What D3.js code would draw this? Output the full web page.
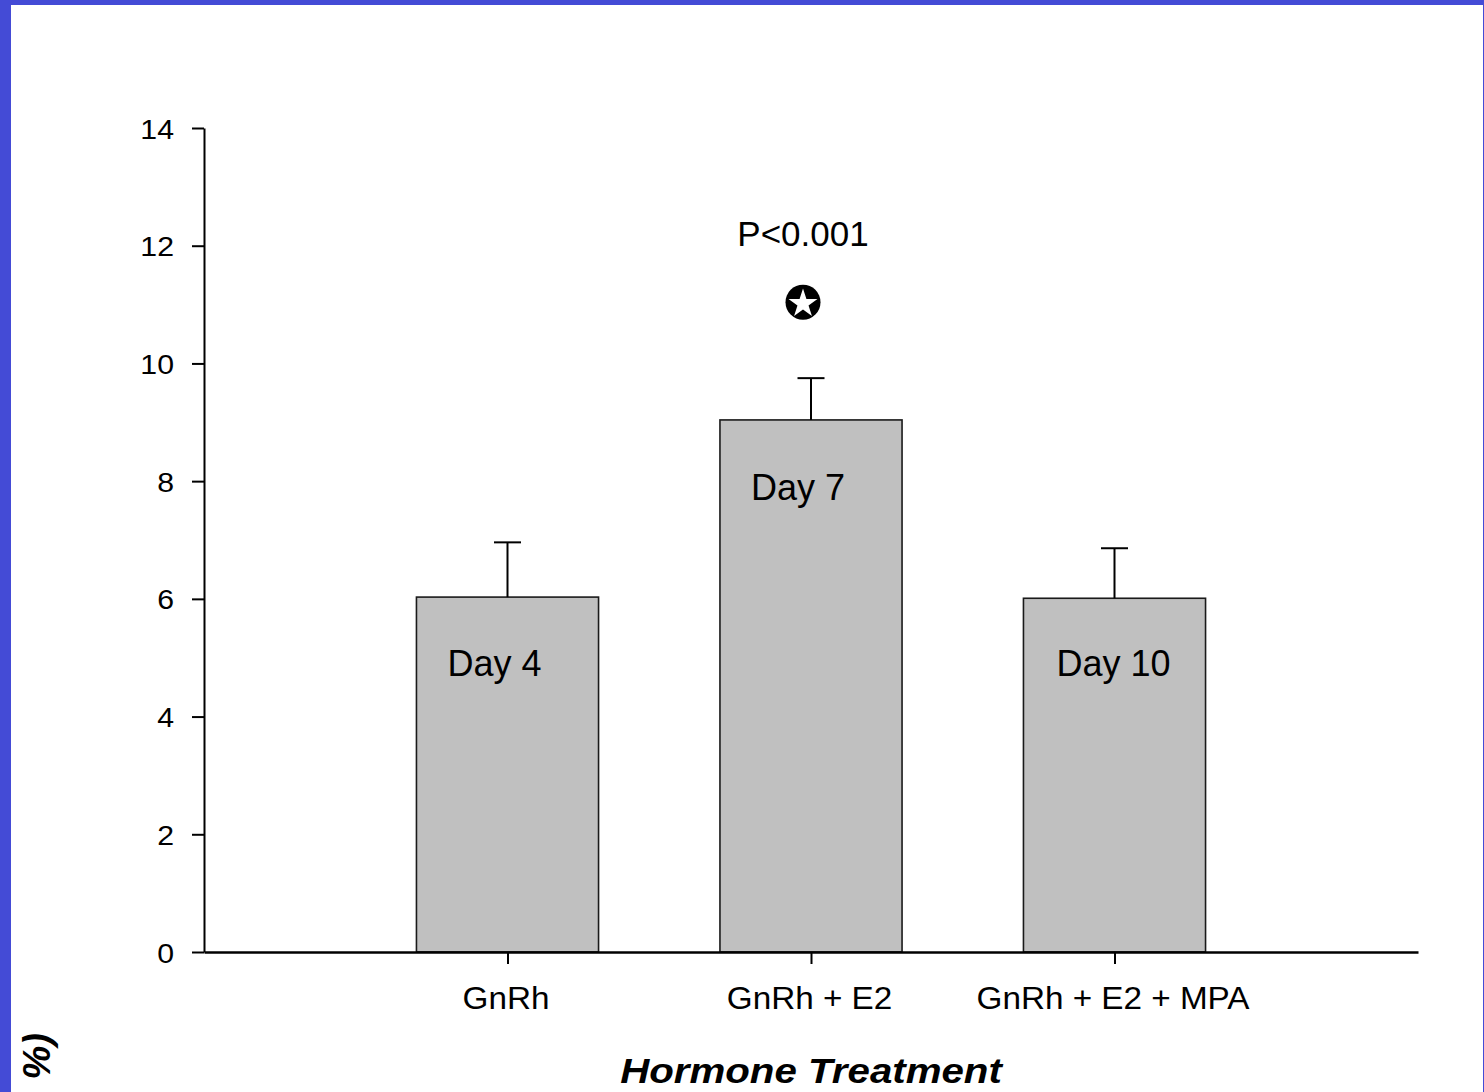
<!DOCTYPE html>
<html>
<head>
<meta charset="utf-8">
<script src="https://cdnjs.cloudflare.com/ajax/libs/d3/7.8.5/d3.min.js"></script>
<style>
  html, body { margin: 0; padding: 0; background: #444bd6; }
  svg { display: block; }
  text { font-family: "Liberation Sans", Arial, sans-serif; fill: #000; }
</style>
</head>
<body>
<div id="chart"></div>
<script>
// chart values
var categories = ["GnRh", "GnRh + E2", "GnRh + E2 + MPA"];
var means = [6.03, 9.04, 6.01];
var errs = [0.93, 0.71, 0.85];
var dayLabels = ["Day 4", "Day 7", "Day 10"];
var dayLabelY = [4.69, 7.68, 4.69];
var dayLabelDx = [-13, -13, -1];
var yTicks = [0, 2, 4, 6, 8, 10, 12, 14];

var W = 1484, H = 1092;
var margin = { top: 128, right: 66, bottom: 140, left: 204 },
  width = W - margin.left - margin.right,
  height = H - margin.top - margin.bottom;

var svg = d3.select("#chart")
  .append("svg")
  .attr("width", W)
  .attr("height", H);

// white page inside the blue frame
svg.append("rect")
  .attr("x", 11).attr("y", 5)
  .attr("width", W - 12).attr("height", H - 5)
  .attr("fill", "#ffffff");

var g = svg.append("g")
  .attr("transform", "translate(" + margin.left + "," + margin.top + ")");

var x = d3.scaleLinear()
  .domain([0, 4])
  .range([0, width]);

var y = d3.scaleLinear()
  .domain([0, 14])
  .range([height, 0]);

var barW = x(0.6) - x(0);

// bars
g.selectAll(".bar")
  .data(means)
  .enter().append("rect")
  .attr("class", "bar")
  .attr("x", function (d, i) { return x(i + 1) - barW / 2; })
  .attr("y", function (d) { return y(d); })
  .attr("width", barW)
  .attr("height", function (d) { return y(0) - y(d); })
  .attr("fill", "#c0c0c0")
  .attr("stroke", "#1a1a1a")
  .attr("stroke-width", 1.6);

// upper error bars
var capW = 27;
means.forEach(function (m, i) {
  var cx = x(i + 1);
  g.append("line")
    .attr("x1", cx).attr("x2", cx)
    .attr("y1", y(m)).attr("y2", y(m + errs[i]))
    .attr("stroke", "#000").attr("stroke-width", 2);
  g.append("line")
    .attr("x1", cx - capW / 2).attr("x2", cx + capW / 2)
    .attr("y1", y(m + errs[i])).attr("y2", y(m + errs[i]))
    .attr("stroke", "#000").attr("stroke-width", 2);
});

// y axis
var yAxis = g.append("g")
  .call(d3.axisLeft(y).tickValues(yTicks).tickSize(12).tickSizeOuter(0));
yAxis.select(".domain").attr("stroke", "#000").attr("stroke-width", 2);
yAxis.selectAll(".tick line").attr("stroke", "#000").attr("stroke-width", 2);
yAxis.selectAll(".tick text")
  .attr("x", 0).attr("dy", "0.36em")
  .attr("transform", "translate(-30,0) scale(1.08,1)")
  .style("font-size", "28px")
  .style("font-family", "Liberation Sans, Arial, sans-serif");

// x axis
var xAxis = g.append("g")
  .attr("transform", "translate(0," + height + ")")
  .call(d3.axisBottom(x).tickValues([1, 2, 3])
    .tickFormat(function (d) { return categories[d - 1]; })
    .tickSize(12).tickSizeOuter(0));
xAxis.select(".domain").attr("stroke", "#000").attr("stroke-width", 2.5);
xAxis.selectAll(".tick line").attr("stroke", "#000").attr("stroke-width", 2);
xAxis.selectAll(".tick text")
  .attr("y", 0).attr("dy", 0)
  .attr("transform", "translate(-2,57) scale(1.04,1)")
  .style("font-size", "32px")
  .style("font-family", "Liberation Sans, Arial, sans-serif");

// labels inside bars
g.selectAll(".day")
  .data(dayLabels)
  .enter().append("text")
  .attr("class", "day")
  .attr("x", function (d, i) { return x(i + 1) + dayLabelDx[i]; })
  .attr("y", function (d, i) { return y(dayLabelY[i]); })
  .attr("text-anchor", "middle")
  .style("font-size", "36px")
  .text(function (d) { return d; });

// significance marker
g.append("text")
  .attr("x", x(2) - 8)
  .attr("y", y(12))
  .attr("text-anchor", "middle")
  .style("font-size", "35px")
  .text("P<0.001");

var star = g.append("g")
  .attr("transform", "translate(" + (x(2) - 8) + "," + y(11.04) + ")");
star.append("circle").attr("r", 17.5).attr("fill", "#000");
star.append("path")
  .attr("d", d3.symbol().type(d3.symbolStar).size(260)())
  .attr("transform", "translate(0,1.5)")
  .attr("fill", "#fff");

// axis titles
svg.append("text")
  .attr("transform", "translate(" + (margin.left + x(2)) + ",1083) scale(1.15,1)")
  .attr("text-anchor", "middle")
  .style("font-size", "35px")
  .style("font-weight", "bold")
  .style("font-style", "italic")
  .text("Hormone Treatment");

svg.append("text")
  .attr("transform", "translate(50,1033) rotate(-90)")
  .attr("text-anchor", "end")
  .style("font-size", "38px")
  .style("font-weight", "bold")
  .style("font-style", "italic")
  .text("%)");
</script>
</body>
</html>
